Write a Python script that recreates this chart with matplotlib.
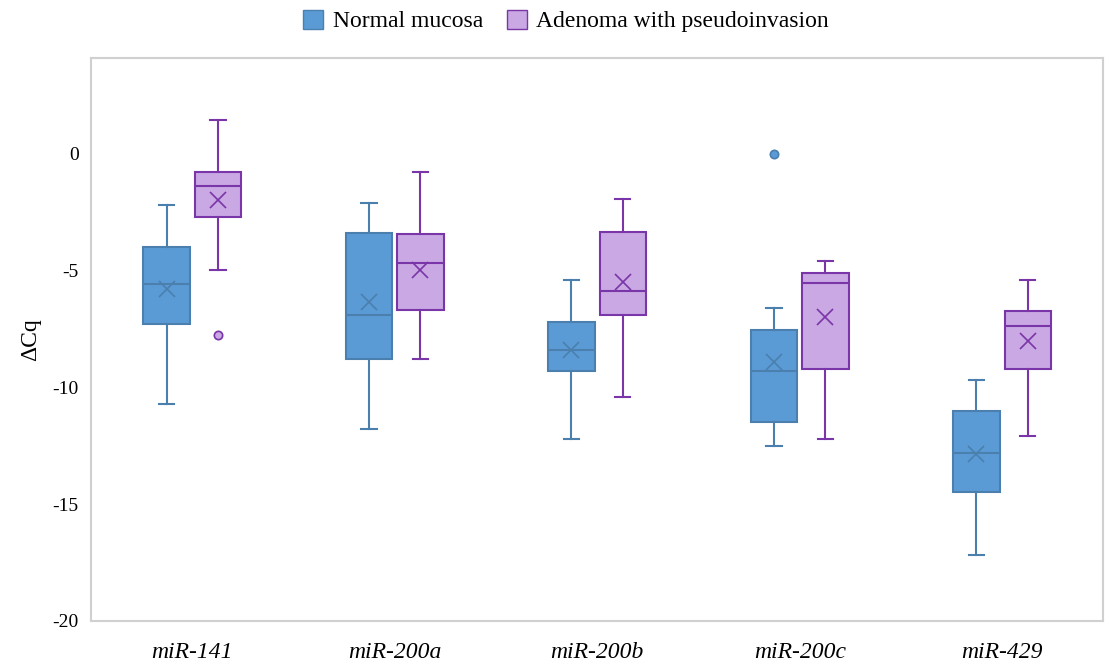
import matplotlib
matplotlib.use("Agg")
import matplotlib.pyplot as plt
from matplotlib.patches import Patch

plt.rcParams['font.family'] = ['Liberation Serif', 'DejaVu Serif']
plt.rcParams['axes.unicode_minus'] = False

mirnas = ['miR-141', 'miR-200a', 'miR-200b', 'miR-200c', 'miR-429']
groups = ['Normal mucosa', 'Adenoma with pseudoinvasion']

# box summary per miRNA: whisker low, q1, median, q3, whisker high, mean
normal_wlo = [-10.7, -11.8, -12.2, -12.5, -17.2]
normal_q1 = [-7.3, -8.8, -9.3, -11.5, -14.5]
normal_med = [-5.6, -6.9, -8.4, -9.3, -12.8]
normal_q3 = [-4.0, -3.4, -7.2, -7.55, -11.0]
normal_whi = [-2.2, -2.1, -5.4, -6.6, -9.7]
normal_mean = [-5.8, -6.35, -8.4, -8.9, -12.85]
normal_fliers = [[], [], [], [0.0], []]

adenoma_wlo = [-5.0, -8.8, -10.4, -12.2, -12.1]
adenoma_q1 = [-2.7, -6.7, -6.9, -9.2, -9.2]
adenoma_med = [-1.4, -4.7, -5.9, -5.55, -7.4]
adenoma_q3 = [-0.8, -3.45, -3.35, -5.1, -6.75]
adenoma_whi = [1.45, -0.8, -1.95, -4.6, -5.4]
adenoma_mean = [-2.0, -5.0, -5.5, -7.0, -8.0]
adenoma_fliers = [[-7.75], [], [], [], []]

blue_fill, blue_edge = '#5B9BD5', '#4A7FAE'
purple_fill, purple_edge = '#C9A8E3', '#7A35A8'


def make_stats(wlo, q1, med, q3, whi, mean, fliers):
    return [dict(whislo=a, q1=b, med=c, q3=d, whishi=e, mean=f, fliers=g)
            for a, b, c, d, e, f, g in zip(wlo, q1, med, q3, whi, mean, fliers)]


def draw(ax, stats, offset, fill, edge, flier_face):
    pos = [i + offset for i in range(len(stats))]
    ax.bxp(stats, positions=pos, widths=0.23, capwidths=0.075,
           patch_artist=True, showmeans=True, shownotches=False,
           boxprops=dict(facecolor=fill, edgecolor=edge, linewidth=1.5),
           medianprops=dict(color=edge, linewidth=1.5),
           whiskerprops=dict(color=edge, linewidth=1.5),
           capprops=dict(color=edge, linewidth=1.5),
           meanprops=dict(marker='x', markersize=11, markeredgecolor=edge,
                          markeredgewidth=1.2),
           flierprops=dict(marker='o', markersize=6, markerfacecolor=flier_face,
                           markeredgecolor=edge, markeredgewidth=1.2))


fig = plt.figure(figsize=(11.1, 6.68), dpi=100)
ax = fig.add_axes([0.082, 0.0705, 0.912, 0.843])

draw(ax, make_stats(normal_wlo, normal_q1, normal_med, normal_q3, normal_whi,
                    normal_mean, normal_fliers), -0.127, blue_fill, blue_edge, blue_fill)
draw(ax, make_stats(adenoma_wlo, adenoma_q1, adenoma_med, adenoma_q3, adenoma_whi,
                    adenoma_mean, adenoma_fliers), 0.127, purple_fill, purple_edge, purple_fill)

ax.set_xlim(-0.5, len(mirnas) - 0.5)
ax.set_ylim(-20, 4.1)
ax.set_yticks([0, -5, -10, -15, -20])
ax.set_xticks(range(len(mirnas)))
ax.set_xticklabels(mirnas, fontstyle='italic')
ax.tick_params(axis='both', length=0)
ax.tick_params(axis='x', pad=15, labelsize=17)
ax.tick_params(axis='y', pad=9, labelsize=14)
for s in ax.spines.values():
    s.set_color('#D0D0D0')
    s.set_linewidth(1.5)
ax.set_ylabel('ΔCq', fontsize=17, labelpad=8)

handles = [Patch(facecolor=blue_fill, edgecolor=blue_edge, label=groups[0]),
           Patch(facecolor=purple_fill, edgecolor=purple_edge, label=groups[1])]
fig.legend(handles=handles, loc='upper center', bbox_to_anchor=(0.51, 1.017), ncol=2,
           frameon=False, fontsize=17, handlelength=0.85, handleheight=0.85,
           handletextpad=0.4, columnspacing=1.0)

fig.savefig('out.png', dpi=100)
